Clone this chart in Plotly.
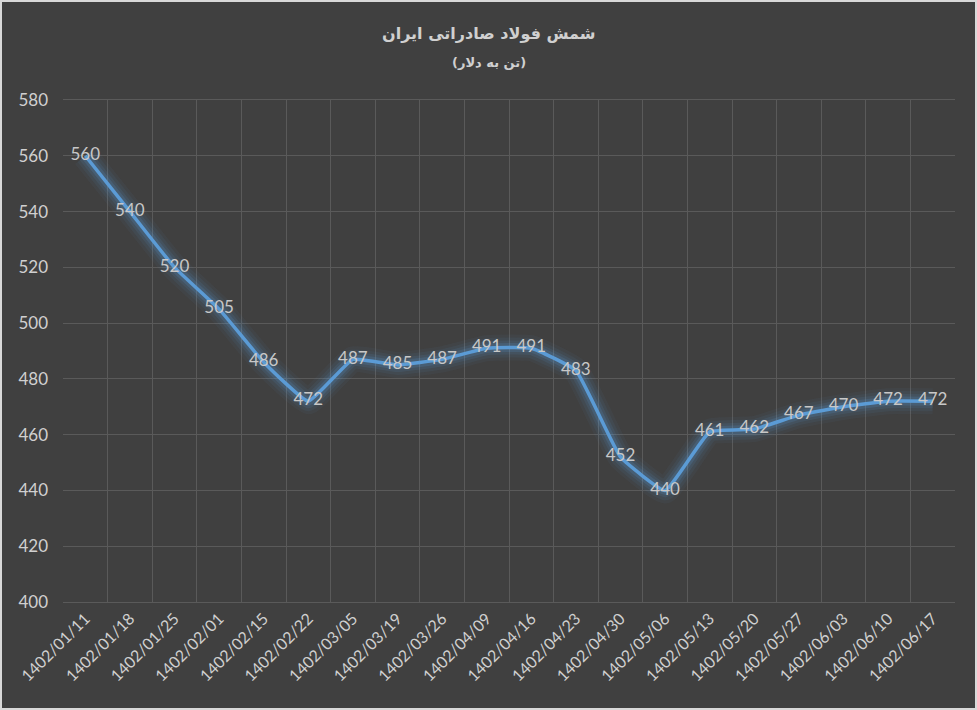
import plotly.graph_objects as go

dates = ["1402/01/11", "1402/01/18", "1402/01/25", "1402/02/01", "1402/02/15",
         "1402/02/22", "1402/03/05", "1402/03/19", "1402/03/26", "1402/04/09",
         "1402/04/16", "1402/04/23", "1402/04/30", "1402/05/06", "1402/05/13",
         "1402/05/20", "1402/05/27", "1402/06/03", "1402/06/10", "1402/06/17"]
prices = [560, 540, 520, 505, 486, 472, 487, 485, 487, 491,
          491, 483, 452, 440, 461, 462, 467, 470, 472, 472]
y_ticks = list(range(400, 581, 20))

title_text = "شمش فولاد صادراتی ایران"
subtitle_text = "(تن به دلار)"

BG = "#404040"
TXT = "#d0d0d0"
LBL = "#c8c8c8"
GRID = "#5a5a5a"
LINE = "#5b9bd5"
FONT = "Lato, 'Open Sans', sans-serif"

W, H = 977, 710
ml, mr, mt, mb = 63, 22, 100, 108

fig = go.Figure()
# glow layers
for w, a in [(26, 0.05), (20, 0.07), (14, 0.11), (9, 0.17)]:
    fig.add_trace(go.Scatter(x=dates, y=prices, mode="lines",
                             line=dict(color=f"rgba(91,155,213,{a})", width=w,
                                       shape="spline", smoothing=0.35),
                             hoverinfo="skip", showlegend=False))
fig.add_trace(go.Scatter(x=dates, y=prices, mode="lines+text",
                         line=dict(color=LINE, width=3.5, shape="spline", smoothing=0.35),
                         text=[str(v) for v in prices], textposition="middle center",
                         textfont=dict(color=LBL, size=17, family=FONT),
                         showlegend=False))

pw = W - ml - mr
ph = H - mt - mb
cx = (W / 2 - ml) / pw
fig.add_shape(type="rect", xref="paper", yref="paper",
              x0=-(ml - 1) / pw, x1=1 + (mr - 1) / pw,
              y0=-(mb - 1) / ph, y1=1 + (mt - 1) / ph,
              line=dict(color="#d9d9d9", width=2), layer="above")

fig.update_layout(
    width=W, height=H,
    margin=dict(l=ml, r=mr, t=mt, b=mb),
    paper_bgcolor=BG, plot_bgcolor=BG,
    font=dict(family=FONT, color=TXT),
    annotations=[
        dict(text=f"<b>{title_text}</b>", xref="paper", yref="paper",
             x=cx, y=1 + 67 / ph, xanchor="center", yanchor="middle",
             showarrow=False, font=dict(size=16, color=TXT, family="DejaVu Sans")),
        dict(text=f"<b>{subtitle_text}</b>", xref="paper", yref="paper",
             x=cx, y=1 + 38 / ph, xanchor="center", yanchor="middle",
             showarrow=False, font=dict(size=13, color=TXT, family="DejaVu Sans")),
    ],
    xaxis=dict(type="category", tickson="boundaries", showgrid=True, gridcolor=GRID,
               gridwidth=1, tickangle=-45, tickfont=dict(size=16, color=TXT),
               ticks="", showline=True, linecolor=GRID, mirror=True,
               zeroline=False, range=[-0.5, len(dates) - 0.5]),
    yaxis=dict(range=[400, 580], tickvals=y_ticks, showgrid=True, gridcolor=GRID,
               gridwidth=1, tickfont=dict(size=17, color=TXT), ticks="",
               ticklabelstandoff=14, zeroline=False),
)

fig.write_html("out.html", config={"displayModeBar": False},
               post_script="document.body.style.margin='0';document.body.style.padding='0';")
